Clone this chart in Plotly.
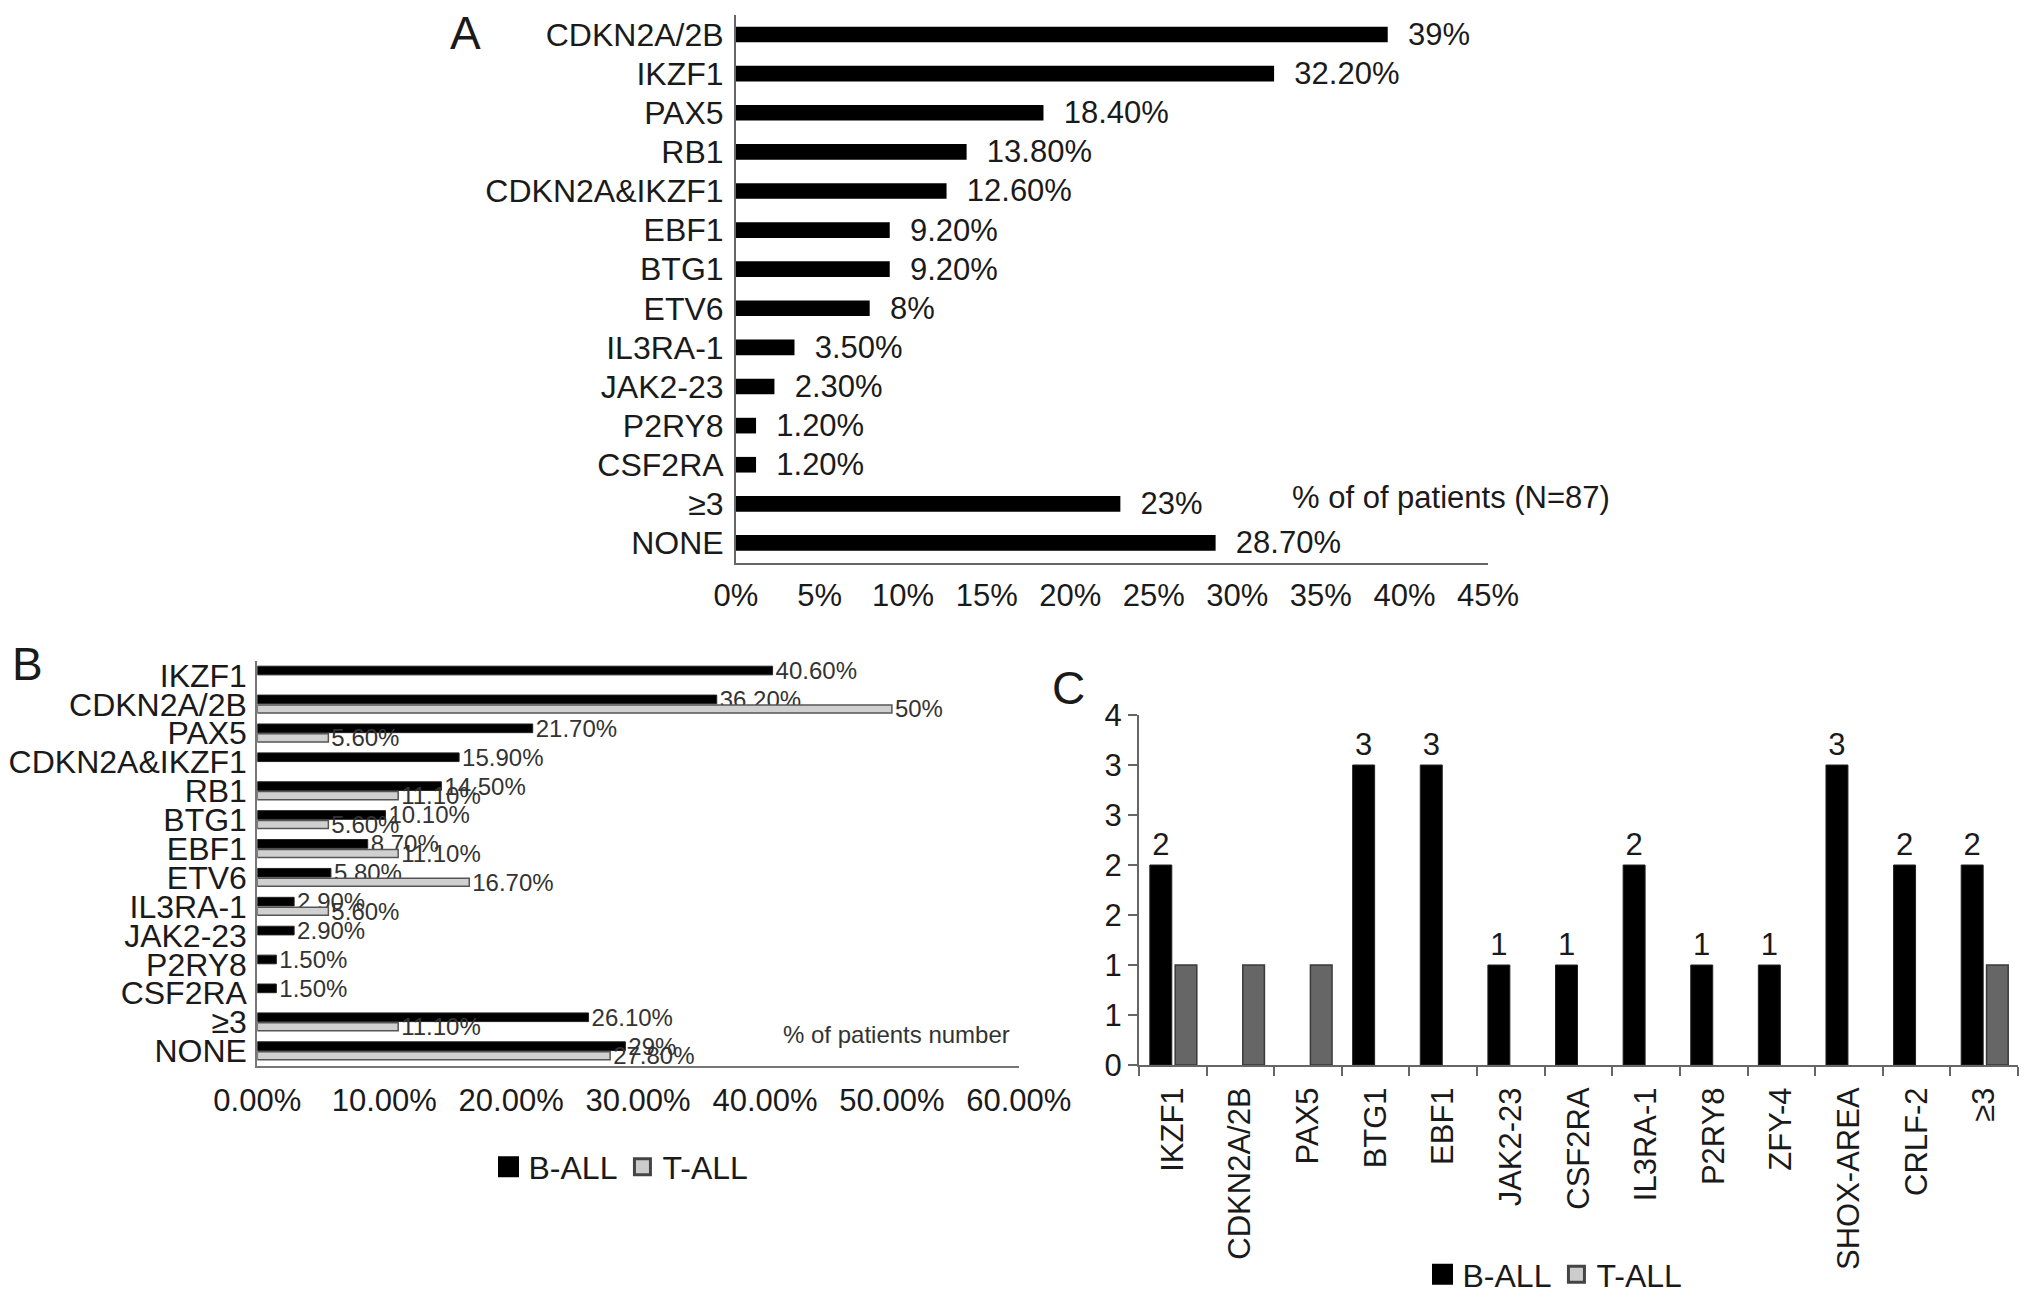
import plotly.graph_objects as go

W, H = 2032, 1302

# ---------------- Panel A data ----------------
a_genes = ["CDKN2A/2B", "IKZF1", "PAX5", "RB1", "CDKN2A&IKZF1", "EBF1", "BTG1",
           "ETV6", "IL3RA-1", "JAK2-23", "P2RY8", "CSF2RA", "≥3", "NONE"]
a_pct = [39, 32.2, 18.4, 13.8, 12.6, 9.2, 9.2, 8, 3.5, 2.3, 1.2, 1.2, 23, 28.7]
a_labels = ["39%", "32.20%", "18.40%", "13.80%", "12.60%", "9.20%", "9.20%",
            "8%", "3.50%", "2.30%", "1.20%", "1.20%", "23%", "28.70%"]
a_tickvals = [0, 5, 10, 15, 20, 25, 30, 35, 40, 45]
a_ticktext = ["0%", "5%", "10%", "15%", "20%", "25%", "30%", "35%", "40%", "45%"]

# ---------------- Panel B data ----------------
b_genes = ["IKZF1", "CDKN2A/2B", "PAX5", "CDKN2A&IKZF1", "RB1", "BTG1", "EBF1",
           "ETV6", "IL3RA-1", "JAK2-23", "P2RY8", "CSF2RA", "≥3", "NONE"]
b_ball = [40.6, 36.2, 21.7, 15.9, 14.5, 10.1, 8.7, 5.8, 2.9, 2.9, 1.5, 1.5, 26.1, 29]
b_ball_labels = ["40.60%", "36.20%", "21.70%", "15.90%", "14.50%", "10.10%", "8.70%",
                 "5.80%", "2.90%", "2.90%", "1.50%", "1.50%", "26.10%", "29%"]
b_tall = [None, 50, 5.6, None, 11.1, 5.6, 11.1, 16.7, 5.6, None, None, None, 11.1, 27.8]
b_tall_labels = ["", "50%", "5.60%", "", "11.10%", "5.60%", "11.10%", "16.70%",
                 "5.60%", "", "", "", "11.10%", "27.80%"]
b_tickvals = [0, 10, 20, 30, 40, 50, 60]
b_ticktext = ["0.00%", "10.00%", "20.00%", "30.00%", "40.00%", "50.00%", "60.00%"]

# ---------------- Panel C data ----------------
c_genes = ["IKZF1", "CDKN2A/2B", "PAX5", "BTG1", "EBF1", "JAK2-23", "CSF2RA",
           "IL3RA-1", "P2RY8", "ZFY-4", "SHOX-AREA", "CRLF-2", "≥3"]
c_ball = [2, None, None, 3, 3, 1, 1, 2, 1, 1, 3, 2, 2]
c_tall = [1, 1, 1, None, None, None, None, None, None, None, None, None, 1]
c_tickvals = [0, 0.5, 1, 1.5, 2, 2.5, 3, 3.5]
c_ticktext = ["0", "1", "1", "2", "2", "3", "3", "4"]

series_names = ["B-ALL", "T-ALL"]

FONT = "Liberation Sans, Arial, Helvetica, sans-serif"
TXT = "#1a1a1a"
AXC = "#666666"


def px(x):
    return x / W


def py(y):
    return 1 - y / H


fig = go.Figure()

# Panel A
fig.add_trace(go.Bar(
    x=a_pct, y=a_genes, orientation="h", xaxis="x", yaxis="y",
    width=0.4, marker=dict(color="black", line=dict(width=0)),
    text=a_labels, texttemplate="\u00a0\u00a0%{text}", textposition="outside",
    constraintext="none", cliponaxis=False,
    textfont=dict(size=31, color=TXT, family=FONT), showlegend=False,
))

# Panel B
fig.add_trace(go.Bar(
    x=b_ball, y=b_genes, orientation="h", xaxis="x2", yaxis="y2",
    width=0.3, offset=-0.32, name=series_names[0],
    marker=dict(color="black", line=dict(color="#222222", width=1)),
    text=b_ball_labels, textposition="outside", constraintext="none", cliponaxis=False,
    textfont=dict(size=24, color="#333333", family=FONT), showlegend=False,
))
fig.add_trace(go.Bar(
    x=b_tall, y=b_genes, orientation="h", xaxis="x2", yaxis="y2",
    width=0.28, offset=0.02, name=series_names[1],
    marker=dict(color="#d0d0d0", line=dict(color="#555555", width=1.5)),
    text=b_tall_labels, textposition="outside", constraintext="none", cliponaxis=False,
    textfont=dict(size=24, color="#333333", family=FONT), showlegend=False,
))

# Panel C
fig.add_trace(go.Bar(
    x=c_genes, y=c_ball, xaxis="x3", yaxis="y3",
    width=0.325, offset=-0.34, name=series_names[0],
    marker=dict(color="black", line=dict(color="#222222", width=1)),
    text=c_ball, textposition="outside", constraintext="none", cliponaxis=False,
    textfont=dict(size=31, color=TXT, family=FONT), showlegend=False,
))
fig.add_trace(go.Bar(
    x=c_genes, y=c_tall, xaxis="x3", yaxis="y3",
    width=0.32, offset=0.035, name=series_names[1],
    marker=dict(color="#666666", line=dict(color="#3a3a3a", width=1.5)),
    showlegend=False,
))

# Legend entries (B and C legends)
leg_styles = [dict(color="black", line=dict(color="black", width=5)),
              dict(color="#cccccc", line=dict(color="#444444", width=3))]
for lg, xa, ya in [("legend", "x2", "y2"), ("legend2", "x3", "y3")]:
    for nm, st in zip(series_names, leg_styles):
        fig.add_trace(go.Scatter(
            x=[None], y=[None], mode="markers", name=nm, xaxis=xa, yaxis=ya,
            marker=dict(symbol="square", size=18, **st), legend=lg, showlegend=True,
        ))

legend_common = dict(orientation="h", xanchor="center", yanchor="middle",
                     font=dict(size=32, color=TXT, family=FONT),
                     bgcolor="rgba(0,0,0,0)", itemsizing="trace",
                     itemwidth=30, tracegroupgap=0)

common_axis = dict(showgrid=False, zeroline=False, automargin=False, fixedrange=True,
                   showline=True, linewidth=2)

fig.update_layout(
    width=W, height=H, autosize=False,
    margin=dict(l=0, r=0, t=0, b=0, pad=0, autoexpand=False),
    paper_bgcolor="white", plot_bgcolor="white",
    font=dict(family=FONT, size=32, color=TXT),
    barmode="overlay",
    xaxis=dict(domain=[px(736), px(1488)], range=[0, 45], tickvals=a_tickvals,
               ticktext=a_ticktext, linecolor=AXC,
               ticks="outside", ticklen=4, tickcolor="rgba(0,0,0,0)",
               tickfont=dict(size=31), anchor="y", **common_axis),
    yaxis=dict(domain=[py(562.5), py(15)], type="category",
               categoryorder="array", categoryarray=a_genes,
               tickmode="array", tickvals=a_genes,
               range=[len(a_genes) - 0.5, -0.5], linecolor=AXC,
               ticks="outside", ticklen=4, tickcolor="rgba(0,0,0,0)",
               tickfont=dict(size=32), anchor="x", **common_axis),
    xaxis2=dict(domain=[px(257.3), px(1018.8)], range=[0, 60], tickvals=b_tickvals,
                ticktext=b_ticktext, linecolor="#777777",
                ticks="outside", ticklen=6, tickcolor="rgba(0,0,0,0)",
                tickfont=dict(size=31), anchor="y2", **common_axis),
    yaxis2=dict(domain=[py(1065.5), py(661)], type="category",
                categoryorder="array", categoryarray=b_genes,
                tickmode="array", tickvals=b_genes,
                range=[len(b_genes) - 0.5, -0.5], linecolor="#777777",
                ticks="outside", ticklen=2, tickcolor="rgba(0,0,0,0)",
                tickfont=dict(size=32), anchor="x2", **common_axis),
    xaxis3=dict(domain=[px(1139), px(2018)], type="category",
                categoryorder="array", categoryarray=c_genes,
                tickmode="array", tickvals=c_genes,
                range=[-0.5, len(c_genes) - 0.5], linecolor=AXC,
                ticks="outside", ticklen=9, tickwidth=2, tickcolor=AXC,
                tickson="boundaries", tickangle=-90, ticklabelstandoff=8,
                tickfont=dict(size=31), anchor="y3", **common_axis),
    yaxis3=dict(domain=[py(1065), py(715)], range=[0, 3.5], tickvals=c_tickvals,
                ticktext=c_ticktext, linecolor=AXC,
                ticks="outside", ticklen=9, tickwidth=2, tickcolor=AXC,
                tickfont=dict(size=31), anchor="x3", **common_axis),
    legend=dict(x=px(621), y=py(1167), **legend_common),
    legend2=dict(x=px(1555), y=py(1274.5), **legend_common),
    annotations=[
        dict(text="A", x=px(465), y=py(33), xref="paper", yref="paper",
             showarrow=False, font=dict(size=46, color=TXT), xanchor="center", yanchor="middle"),
        dict(text="B", x=px(27), y=py(664), xref="paper", yref="paper",
             showarrow=False, font=dict(size=46, color=TXT), xanchor="center", yanchor="middle"),
        dict(text="C", x=px(1068), y=py(688), xref="paper", yref="paper",
             showarrow=False, font=dict(size=46, color=TXT), xanchor="center", yanchor="middle"),
        dict(text="% of of patients (N=87)", x=px(1289.6), y=py(497), xref="paper", yref="paper",
             showarrow=False, font=dict(size=31, color=TXT), xanchor="left", yanchor="middle"),
        dict(text="% of patients number", x=px(781), y=py(1034.5), xref="paper", yref="paper",
             showarrow=False, font=dict(size=24, color="#333333"), xanchor="left", yanchor="middle"),
    ],
)

fig.write_html("out.html", config={"displayModeBar": False},
               post_script="document.body.style.margin='0';document.body.style.overflow='hidden';")
